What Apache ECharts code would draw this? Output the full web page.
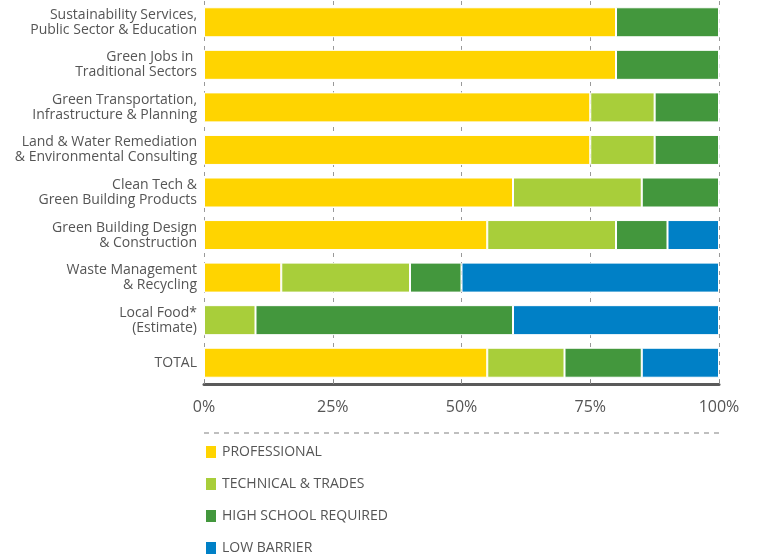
<!DOCTYPE html>
<html>
<head>
<meta charset="utf-8">
<script src="https://cdn.jsdelivr.net/npm/echarts@6/dist/echarts.min.js"></script>
<style>
  html, body { margin: 0; padding: 0; background: #fff; }
  #chart { width: 758px; height: 557px; }
</style>
</head>
<body>
<div id="chart"></div>
<script>
// sectors, top to bottom
var sectors = [
  "Sustainability Services,\nPublic Sector & Education",
  "Green Jobs in \nTraditional Sectors",
  "Green Transportation,\nInfrastructure & Planning",
  "Land & Water Remediation\n& Environmental Consulting",
  "Clean Tech &\nGreen Building Products",
  "Green Building Design\n& Construction",
  "Waste Management\n& Recycling",
  "Local Food*\n(Estimate)",
  "TOTAL"
];

// share of jobs (%) by barrier level
var professional = [80, 80, 75, 75, 60, 55, 15, 0, 55];
var technical    = [0, 0, 12.5, 12.5, 25, 25, 25, 10, 15];
var highSchool   = [20, 20, 12.5, 12.5, 15, 10, 10, 50, 15];
var lowBarrier   = [0, 0, 0, 0, 0, 10, 50, 40, 15];

var tickValues = [0, 25, 50, 75, 100];

var names = ["PROFESSIONAL", "TECHNICAL & TRADES", "HIGH SCHOOL REQUIRED", "LOW BARRIER"];
var colors = ["#FFD400", "#A8CE3A", "#43973D", "#0080C6"];
var values = [professional, technical, highSchool, lowBarrier];

var chart = echarts.init(document.getElementById("chart"));

var series = names.map(function (n, i) {
  return {
    name: n,
    type: "bar",
    stack: "total",
    barWidth: 30,
    itemStyle: { color: colors[i], borderColor: "#fff", borderWidth: 1 },
    data: values[i],
    animation: false
  };
});

var option = {
  animation: false,
  textStyle: { fontFamily: "Open Sans" },
  color: colors,
  grid: { left: 204, right: 39, top: 1, height: 383, containLabel: false },
  xAxis: {
    type: "value",
    min: tickValues[0],
    max: tickValues[tickValues.length - 1],
    interval: 25,
    axisLine: { show: true, lineStyle: { color: "#5a5a5a", width: 3 } },
    axisTick: { show: true, inside: true, length: 4, lineStyle: { color: "#888", width: 1 } },
    axisLabel: {
      formatter: "{value}%",
      color: "#555",
      fontSize: 16,
      fontFamily: "Open Sans",
      margin: 15
    },
    splitLine: { show: true, lineStyle: { color: "#999", type: [4, 5], width: 1 } }
  },
  yAxis: {
    type: "category",
    data: sectors,
    inverse: true,
    axisLine: { show: false },
    axisTick: { show: false },
    axisLabel: {
      color: "#555",
      fontSize: 14,
      lineHeight: 15,
      fontFamily: "Open Sans",
      margin: 7,
      align: "right",
      padding: [3, 0, 0, 0]
    }
  },
  legend: {
    orient: "vertical",
    left: 204,
    top: 444,
    padding: 0,
    height: 300,
    icon: "rect",
    itemWidth: 12,
    itemHeight: 14,
    itemGap: 16,
    data: names,
    textStyle: { color: "#555", fontSize: 14, fontFamily: "Open Sans" },
    selectedMode: false
  },
  graphic: [{
    type: "line",
    shape: { x1: 204, y1: 433, x2: 719, y2: 433 },
    style: { stroke: "#aaa", lineWidth: 1.5, lineDash: [5, 5] }
  }],
  series: series
};

chart.setOption(option);
</script>
</body>
</html>
